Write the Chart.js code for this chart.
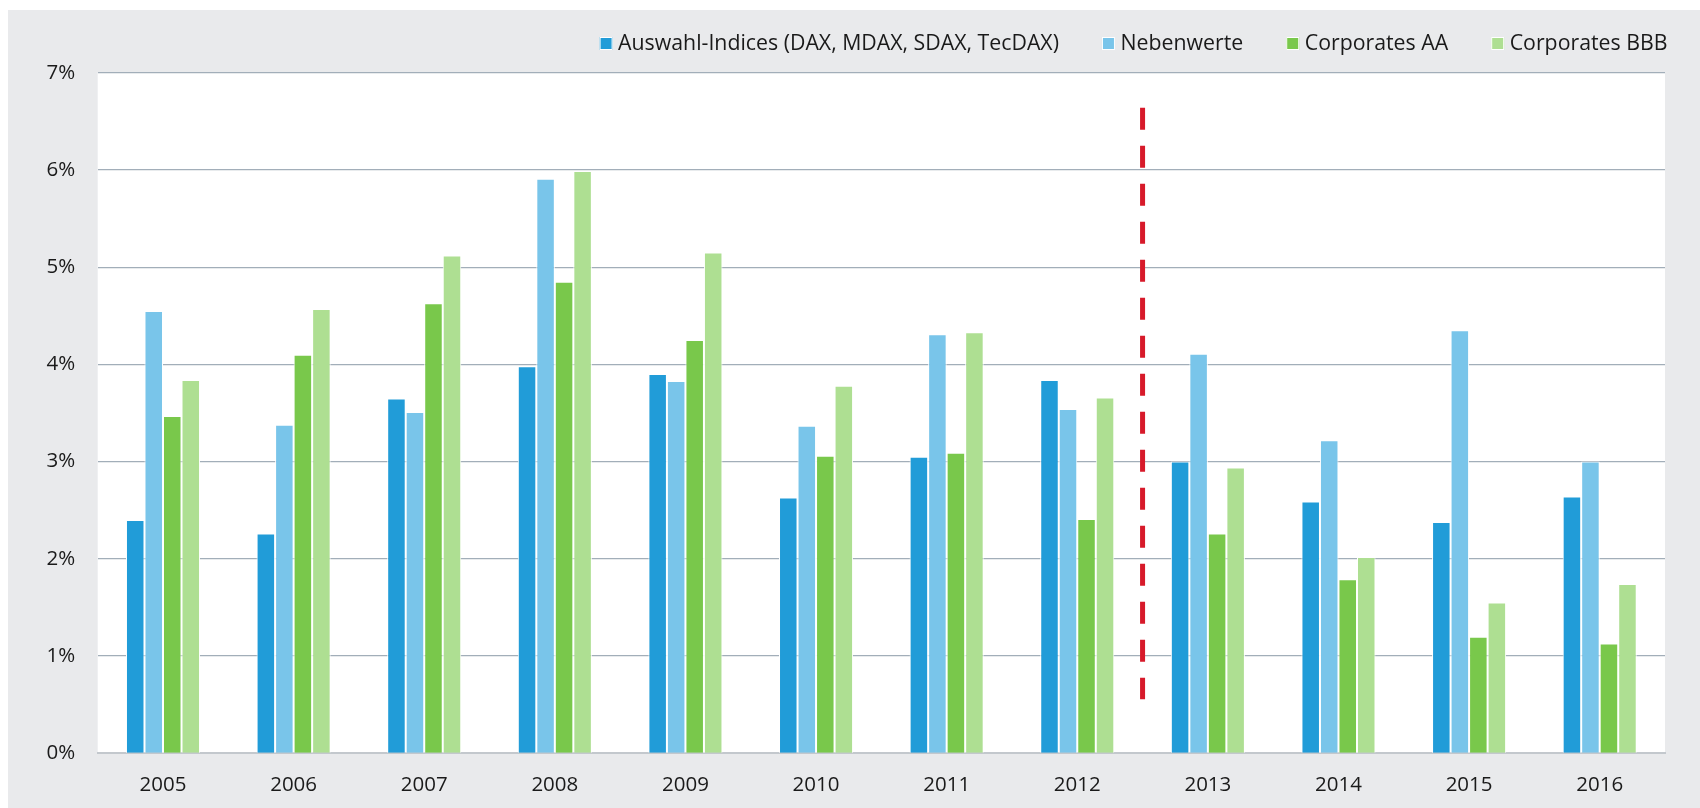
<!DOCTYPE html>
<html>
<head>
<meta charset="utf-8">
<script src="https://cdn.jsdelivr.net/npm/chart.js@4"></script>
<style>
  html, body { margin: 0; padding: 0; background: #ffffff; width: 1700px; height: 808px; overflow: hidden; }
  #bg { position: absolute; left: 8px; top: 10px; width: 1692px; height: 798px; background: #e9eaec; }
  #c { position: absolute; left: 0; top: 0; }
</style>
</head>
<body>
<div id="bg"></div>
<canvas id="c" width="1700" height="808"></canvas>
<script>
const years = ['2005','2006','2007','2008','2009','2010','2011','2012','2013','2014','2015','2016'];
const seriesNames = ['Auswahl-Indices (DAX, MDAX, SDAX, TecDAX)', 'Nebenwerte', 'Corporates AA', 'Corporates BBB'];
const auswahl = [2.40, 2.26, 3.65, 3.98, 3.90, 2.63, 3.05, 3.84, 3.00, 2.59, 2.38, 2.64];
const nebenwerte = [4.55, 3.38, 3.51, 5.91, 3.83, 3.37, 4.31, 3.54, 4.11, 3.22, 4.35, 3.00];
const corpAA = [3.47, 4.10, 4.63, 4.85, 4.25, 3.06, 3.09, 2.41, 2.26, 1.79, 1.20, 1.13];
const corpBBB = [3.84, 4.57, 5.12, 5.99, 5.15, 3.78, 4.33, 3.66, 2.94, 2.02, 1.55, 1.74];
const yTicks = [0, 1, 2, 3, 4, 5, 6, 7];
// marker between 2012 and 2013 (category index 7.5), spanning these values
const markerIndex = 7.5;
const markerFrom = 6.64;
const markerTo = 0.555;

const colors = ['#219cd8', '#79c5ea', '#79c84b', '#aedf92'];
const values = [auswahl, nebenwerte, corpAA, corpBBB];
const FONT = '"Open Sans", "DejaVu Sans", sans-serif';

const plotBg = {
  id: 'plotBg',
  beforeDraw(chart) {
    const a = chart.chartArea, ctx = chart.ctx;
    ctx.save();
    ctx.fillStyle = '#ffffff';
    ctx.fillRect(a.left, a.top, a.right - a.left, a.bottom - a.top);
    ctx.restore();
  }
};

const marker = {
  id: 'marker',
  afterDatasetsDraw(chart) {
    const x = chart.scales.x.getPixelForValue(markerIndex);
    const y1 = chart.scales.y.getPixelForValue(markerFrom);
    const y2 = chart.scales.y.getPixelForValue(markerTo);
    const ctx = chart.ctx;
    ctx.save();
    ctx.strokeStyle = '#d71a2a';
    ctx.lineWidth = 5;
    ctx.setLineDash([22, 16]);
    ctx.lineCap = 'butt';
    ctx.beginPath();
    ctx.moveTo(x, y1);
    ctx.lineTo(x, y2);
    ctx.stroke();
    ctx.restore();
  }
};

// legend drawn from the datasets, right-aligned at the top
const customLegend = {
  id: 'customLegend',
  afterDraw(chart, args, opts) {
    const ctx = chart.ctx;
    ctx.save();
    ctx.font = opts.fontSize + 'px ' + FONT;
    ctx.textBaseline = 'alphabetic';
    ctx.textAlign = 'left';
    const items = chart.data.datasets.map(ds => ({
      text: ds.label, color: ds.backgroundColor, w: ctx.measureText(ds.label).width
    }));
    let x = opts.right;
    for (let i = items.length - 1; i >= 0; i--) {
      const it = items[i];
      const textX = x - it.w;
      const boxX = textX - opts.gap - opts.box;
      it.textX = textX; it.boxX = boxX;
      x = boxX - opts.spacing;
    }
    items.forEach(it => {
      ctx.fillStyle = it.color;
      ctx.fillRect(it.boxX, opts.boxTop, opts.box, opts.box);
      ctx.strokeStyle = '#ffffff';
      ctx.lineWidth = 1;
      ctx.strokeRect(it.boxX + 0.5, opts.boxTop + 0.5, opts.box - 1, opts.box - 1);
      ctx.fillStyle = '#1a1a1a';
      ctx.fillText(it.text, it.textX, opts.baseline);
    });
    ctx.restore();
  }
};

new Chart(document.getElementById('c'), {
  type: 'bar',
  data: {
    labels: years,
    datasets: values.map((v, i) => ({
      label: seriesNames[i],
      data: v,
      backgroundColor: colors[i],
      borderColor: '#ffffff',
      borderWidth: 1,
      borderSkipped: 'start',
      categoryPercentage: 0.567,
      barPercentage: 1.0
    }))
  },
  options: {
    responsive: false,
    animation: false,
    devicePixelRatio: 1,
    layout: { padding: { left: 0, right: 35, top: 72.7, bottom: 0 } },
    plugins: {
      tooltip: { enabled: false },
      legend: { display: false },
      customLegend: { right: 1667.5, fontSize: 21.3, box: 13, gap: 5.5, spacing: 43, boxTop: 37, baseline: 50 }
    },
    scales: {
      x: {
        offset: true,
        grid: { display: false, drawTicks: false },
        border: { display: true, color: '#c3c8cd', width: 2 },
        afterFit(scale) { scale.height = 54.7; },
        ticks: {
          color: '#1a1a1a',
          padding: 20,
          font: { family: FONT, size: 20.5 }
        }
      },
      y: {
        min: 0,
        max: 7,
        afterBuildTicks(scale) { scale.ticks = yTicks.map(v => ({ value: v })); },
        afterFit(scale) { scale.width = 97.7; },
        grid: {
          color: (c) => (c.tick && c.tick.value === 0) ? 'rgba(0,0,0,0)' : '#a2aeb9',
          lineWidth: 1.3,
          drawTicks: false
        },
        border: { display: false },
        ticks: {
          color: '#1a1a1a',
          padding: 22.5,
          font: { family: FONT, size: 20.5 },
          callback: (v) => v + '%'
        }
      }
    }
  },
  plugins: [plotBg, marker, customLegend]
});
</script>
</body>
</html>
